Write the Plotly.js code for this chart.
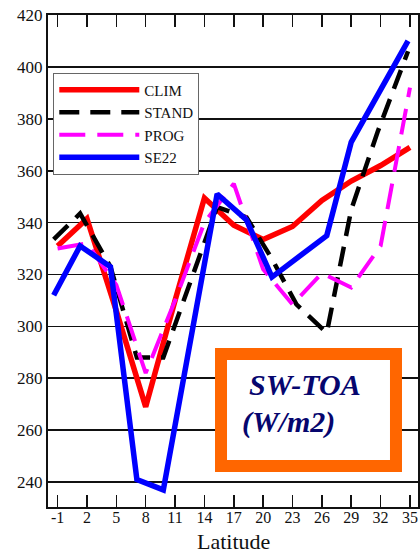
<!DOCTYPE html>
<html>
<head>
<meta charset="utf-8">
<script src="https://cdn.plot.ly/plotly-3.0.1.min.js"></script>
<style>html,body{margin:0;padding:0;background:#fff;}#chart{width:420px;height:554px;}</style>
</head>
<body>
<div id="chart"></div>
<script>
// Latitude positions
var latCLIM = [-1, 2, 5, 8, 11, 14, 17, 20, 23, 26, 29, 32, 35];
var valCLIM = [331, 341.5, 306, 269, 310, 349.5, 339, 333.5, 338.5, 348.5, 356, 362, 369];

var latSTAND = [-1.4, 1.3, 4.4, 7.1, 9.8, 15.3, 18.3, 20.9, 23.4, 26.5, 29.0, 31.7, 34.8];
var valSTAND = [333.5, 343.5, 323, 288, 288, 346, 342, 326, 308.5, 297.5, 345, 375, 406];

var latPROG = [-1, 2, 5, 8, 11, 14, 17, 20, 23, 26, 29, 32, 35];
var valPROG = [330, 332, 316, 282, 310, 340, 355, 322, 308.5, 320.5, 315, 331, 392];

var latSE22 = [-1.4, 1.3, 4.4, 7.1, 9.8, 15.3, 18.3, 20.9, 26.5, 29.0, 34.8];
var valSE22 = [312, 331, 323, 241, 237, 351, 341, 319, 335, 371, 410];

var seriesNames = ['CLIM', 'STAND', 'PROG', 'SE22'];
var xTickVals = [-1, 2, 5, 8, 11, 14, 17, 20, 23, 26, 29, 32, 35];
var yTickVals = [240, 260, 280, 300, 320, 340, 360, 380, 400, 420];
var xTitle = 'Latitude';
var boxLine1 = 'SW-TOA';
var boxLine2 = '(W/m2)';

var serif = '"Liberation Serif", "Times New Roman", serif';

var traces = [
  {x: latCLIM, y: valCLIM, name: seriesNames[0], mode: 'lines',
   line: {color: '#ff0000', width: 5.5}},
  {x: latSTAND, y: valSTAND, name: seriesNames[1], mode: 'lines',
   line: {color: '#000000', width: 4.5, dash: '20px,11px'}},
  {x: latPROG, y: valPROG, name: seriesNames[2], mode: 'lines',
   line: {color: '#ff00ff', width: 4, dash: '26px,12px'}},
  {x: latSE22, y: valSE22, name: seriesNames[3], mode: 'lines',
   line: {color: '#0000ff', width: 5.5}}
];

var layout = {
  width: 420, height: 554,
  margin: {l: 48, r: 2, t: 15, b: 47},
  paper_bgcolor: '#ffffff', plot_bgcolor: '#ffffff',
  font: {family: serif, color: '#111', size: 17},
  showlegend: true,
  legend: {
    x: 0.0143, y: 0.883, xanchor: 'left', yanchor: 'top',
    bgcolor: '#ffffff', bordercolor: '#666', borderwidth: 1,
    font: {family: serif, size: 15, color: '#111'},
    itemwidth: 80, tracegroupgap: 0
  },
  xaxis: {
    range: [-1.98, 35.82], tickvals: xTickVals, ticktext: xTickVals.map(String),
    showgrid: false, zeroline: false,
    showline: true, linecolor: '#111', linewidth: 2, mirror: 'ticks',
    ticks: 'inside', ticklen: 12, tickwidth: 1.5, tickcolor: '#111',
    ticklabelstandoff: -5,
    tickfont: {family: serif, size: 16, color: '#111'}
  },
  yaxis: {
    range: [230.4, 420], tickvals: yTickVals, ticktext: yTickVals.map(String),
    showgrid: true, gridcolor: '#111', gridwidth: 1.6, zeroline: false,
    showline: true, linecolor: '#111', linewidth: 2, mirror: 'ticks',
    ticks: 'inside', ticklen: 10, tickwidth: 1.5, tickcolor: '#111',
    tickfont: {family: serif, size: 17, color: '#111'}
  },
  shapes: [
    {type: 'rect', xref: 'paper', yref: 'paper',
     x0: 0.4676, x1: 0.9405, y0: 0.0833, y1: 0.311,
     line: {color: '#ff6600', width: 12}, fillcolor: '#ffffff', layer: 'above'}
  ],
  annotations: [
    {xref: 'paper', yref: 'paper', x: 0.5, y: -0.0417, xanchor: 'center', yanchor: 'top',
     text: xTitle, showarrow: false, borderpad: 0,
     font: {family: serif, size: 22, color: '#111'}},
    {xref: 'paper', yref: 'paper', x: 0.695, y: 0.248, xanchor: 'center', yanchor: 'middle',
     text: '<b><i>' + boxLine1 + '</i></b>', showarrow: false,
     font: {family: serif, size: 30, color: '#06066e'}},
    {xref: 'paper', yref: 'paper', x: 0.519, y: 0.173, xanchor: 'left', yanchor: 'middle',
     text: '<b><i>' + boxLine2 + '</i></b>', showarrow: false,
     font: {family: serif, size: 30, color: '#06066e'}}
  ]
};

Plotly.newPlot('chart', traces, layout, {displayModeBar: false, staticPlot: true});
</script>
</body>
</html>
